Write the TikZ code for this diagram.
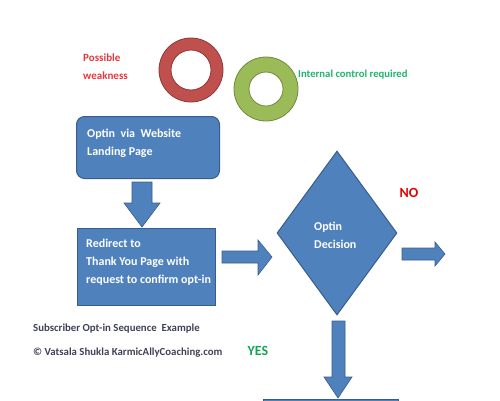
\documentclass[tikz,border=0pt]{standalone}
\usepackage{fontspec}
\setmainfont{Carlito}
\usetikzlibrary{shapes.geometric,positioning}
\definecolor{boxblue}{HTML}{4F81BD}
\definecolor{boxedge}{HTML}{385D8A}
\definecolor{ringred}{HTML}{C0504D}
\definecolor{ringrededge}{HTML}{8C3A38}
\definecolor{ringgreen}{HTML}{9BBB59}
\definecolor{ringgreenedge}{HTML}{6E8A3C}
\definecolor{warnred}{HTML}{E8363C}
\definecolor{okgreen}{HTML}{1FB56E}
\definecolor{yesgreen}{HTML}{13A550}
\definecolor{footgray}{HTML}{3F4257}
\begin{document}
\begin{tikzpicture}[x=1pt,y=-1pt,
  flowbox/.style={draw=boxedge, fill=boxblue, line width=1pt, inner sep=0pt, anchor=north west},
  boxtext/.style={text=white, font=\bfseries\fontsize{12}{18}\selectfont, align=left, anchor=north west, inner sep=0pt},
  blockarrow/.style={fill=boxblue, draw=boxedge, line width=0.6pt},
  note/.style={font=\bfseries\fontsize{11}{18}\selectfont, align=left, anchor=north west, inner sep=0pt}]
  \useasboundingbox (0,0) rectangle (500,400);

  % Rings
  \fill[ringred, even odd rule] (191,70) circle (32) circle (20);
  \draw[ringrededge, line width=0.8pt] (191,70) circle (32) (191,70) circle (20);
  \fill[ringgreen, even odd rule] (266,89) circle (32) circle (17);
  \draw[ringgreenedge, line width=0.8pt] (266,89) circle (32) (266,89) circle (17);

  % Ring labels
  \node[note, text=warnred] (weak) at (83,54) {Possible\\weakness};
  \node[note, text=okgreen, font=\bfseries\fontsize{10.7}{12}\selectfont, anchor=west] (control) at (298,75) {Internal control required};

  % Boxes
  \node[flowbox, rounded corners=8pt, minimum width=143pt, minimum height=62pt] (landing) at (76,116) {};
  \node[boxtext] (landingtxt) at (87,129) {Optin\ \ via\ \ Website\\Landing Page};
  \node[flowbox, minimum width=138pt, minimum height=77pt] (redirect) at (77,228) {};
  \node[boxtext] (redirecttxt) at (86,239) {Redirect to\\Thank You Page with\\request to confirm opt-in};

  % Decision
  \node[diamond, draw=boxedge, fill=boxblue, line width=1pt, inner sep=0pt,
        minimum width=120pt, minimum height=164pt] (decision) at (337,233) {};
  \node[boxtext, anchor=west] (decisiontxt) at (314,235) {Optin\\Decision};
  \node[note, text=red!90!black, font=\bfseries\fontsize{14}{16}\selectfont, anchor=center] (no) at (409,193) {NO};
  \node[note, text=yesgreen, font=\bfseries\fontsize{14}{16}\selectfont, anchor=center] (yes) at (258,351) {YES};

  % Block arrows
  \filldraw[blockarrow] (132,182) -- (152,182) -- (152,203) -- (160,203) -- (142,227) -- (124,203) -- (132,203) -- cycle;
  \filldraw[blockarrow] (222,251) -- (258,251) -- (258,240) -- (272,257) -- (258,275) -- (258,263) -- (222,263) -- cycle;
  \filldraw[blockarrow] (402,248) -- (435,248) -- (435,242) -- (445,254) -- (435,266) -- (435,260) -- (402,260) -- cycle;
  \filldraw[blockarrow] (332,321) -- (345,321) -- (345,377) -- (352,377) -- (338,398) -- (324,377) -- (332,377) -- cycle;

  % Next step (cut off)
  \filldraw[fill=boxblue, draw=boxedge, line width=0.8pt] (263,399) rectangle (398,402);

  % Footer
  \node[note, text=footgray, font=\fontsize{10.8}{24}\selectfont\bfseries] (footer) at (33,324) {Subscriber Opt-in Sequence\ \ Example\\\textcopyright\ Vatsala Shukla KarmicAllyCoaching.com};
\end{tikzpicture}
\end{document}
